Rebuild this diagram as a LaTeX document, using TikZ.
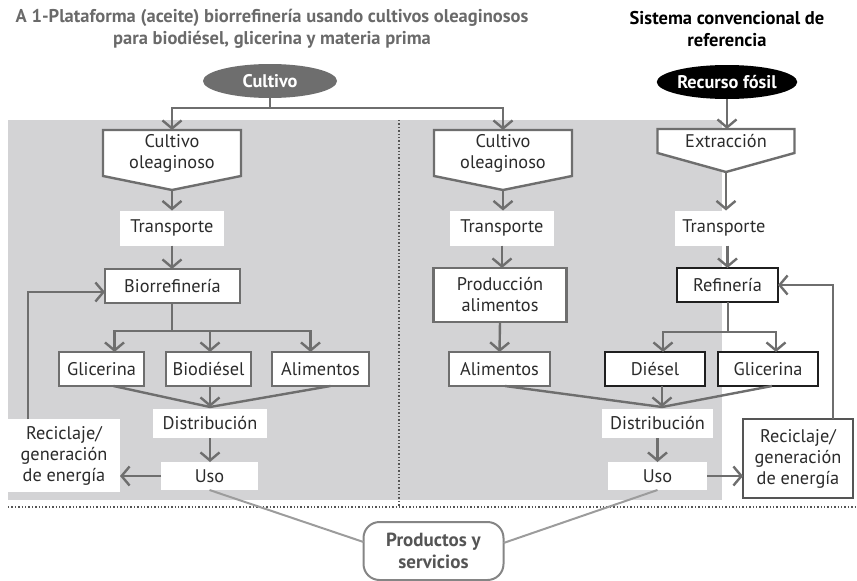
\documentclass[tikz,border=0pt]{standalone}
\usepackage{fontspec}
\setmainfont{PT Sans}
\usetikzlibrary{arrows.meta,calc,shapes.geometric}
\definecolor{bgray}{HTML}{D3D3D5}
\definecolor{lgray}{HTML}{6E6E6E}
\definecolor{tgray}{HTML}{6A6A6A}
\definecolor{ink}{HTML}{2B2B2B}
\definecolor{pline}{HTML}{9C9C9C}
\definecolor{dotc}{HTML}{555555}
\pgfdeclarelayer{bg}
\pgfdeclarelayer{mid}
\pgfsetlayers{bg,mid,main}

\begin{document}
\begin{tikzpicture}[x=1pt,y=-1pt,
  every node/.style={inner sep=0pt,outer sep=0pt,text=ink,align=center,
    font=\fontsize{18.3}{21}\selectfont},
  box/.style={draw=lgray,line width=2.4pt,fill=white,minimum height=34pt},
  blackbox/.style={draw=black!88,line width=2.4pt,fill=white,minimum height=34pt},
  plain/.style={fill=white},
  pent/.style={minimum width=138pt},
  pentline/.style={draw=lgray,line width=2.4pt,fill=white,line join=miter},
  oval/.style={ellipse,minimum width=134pt,minimum height=34pt,text=white,
    font=\fontsize{18.3}{20}\selectfont\bfseries},
  title/.style={font=\fontsize{18.5}{22}\selectfont\bfseries},
  ln/.style={draw=lgray,line width=2.4pt},
  arr/.style={ln,-{Straight Barb[length=8pt,width=19pt]}},
  pl/.style={draw=pline,line width=2pt},
  dotline/.style={draw=dotc,line width=1.6pt,dash pattern=on 1.3pt off 2.1pt}
]
\useasboundingbox (0,0) rectangle (857,581);

% shaded area and separators
\begin{pgfonlayer}{bg}
  \fill[bgray] (8,120) rectangle (722,500);
  \draw[dotline] (399,120) -- (399,507);
  \draw[dotline] (8,507) -- (857,507);
\end{pgfonlayer}

% headings
\node[title,text=tgray] (t1) at (272,29)
  {A 1-Plataforma (aceite) biorrefinería usando cultivos oleaginosos\\
   para biodiésel, glicerina y materia prima};
\node[title,text=black] (t2) at (727,29) {Sistema convencional de\\referencia};

% sources
\node[oval,fill=lgray] (cult) at (270,81) {Cultivo};
\node[oval,fill=black] (fos) at (727,82) {Recurso fósil};

% pentagon nodes
\node[pent,minimum height=46pt] (cul1) at (172,153) {Cultivo\\oleaginoso};
\node[pent,minimum height=46pt] (cul2) at (503,153) {Cultivo\\oleaginoso};
\node[pent,minimum width=137pt,minimum height=24pt] (ext) at (726,141) {Extracción};
\begin{pgfonlayer}{mid}
  \foreach \n/\d in {cul1/14,cul2/14,ext/19}{
    \draw[pentline] (\n.north west) -- (\n.north east) -- (\n.south east)
      -- ([yshift=-\d pt]\n.south) -- (\n.south west) -- cycle;
  }
\end{pgfonlayer}

% transport
\node[plain,minimum width=104pt,minimum height=35pt] (tr1) at (172,228) {Transporte};
\node[plain,minimum width=104pt,minimum height=35pt] (tr2) at (502,228) {Transporte};
\node[plain,minimum width=98pt,minimum height=35pt] (tr3) at (724,228) {Transporte};

% processing
\node[box,minimum width=135pt] (bio) at (172.5,286) {Biorrefinería};
\node[box,minimum width=133pt,minimum height=54pt] (pal) at (500,295) {Producción\\alimentos};
\node[blackbox,minimum width=101pt] (ref) at (727.5,285) {Refinería};

% products
\node[box,minimum width=85pt] (glL) at (101.5,369) {Glicerina};
\node[box,minimum width=85pt] (bdl) at (208.5,369) {Biodiésel};
\node[box,minimum width=97pt] (alL) at (320.5,369) {Alimentos};
\node[box,minimum width=101pt] (alR) at (499.5,369) {Alimentos};
\node[blackbox,minimum width=100pt] (dsl) at (655,369) {Diésel};
\node[blackbox,minimum width=100pt] (glR) at (768,369) {Glicerina};

% distribution and use
\node[plain,minimum width=114pt,minimum height=29pt] (dis1) at (210,423.5) {Distribución};
\node[plain,minimum width=111pt,minimum height=29pt] (dis2) at (657.5,423.5) {Distribución};
\node[plain,minimum width=97pt,minimum height=28pt] (uso1) at (209.5,476) {Uso};
\node[plain,minimum width=99pt,minimum height=28pt] (uso2) at (657.5,476) {Uso};

% end of life
\node[plain,minimum width=112pt,minimum height=73pt] (rec1) at (64,455.5)
  {Reciclaje/\\generación\\de energía};
\node[draw=dotc,line width=1.2pt,fill=white,minimum width=110pt,minimum height=79pt]
  (rec2) at (798,458.5) {Reciclaje/\\generación\\de energía};

% outcome
\node[draw=pline!85!black,line width=2pt,rounded corners=16pt,fill=white,
  minimum width=140pt,minimum height=58pt,text=ink!80,
  font=\fontsize{19}{22}\selectfont\bfseries] (prod) at (433.5,551) {Productos y\\servicios};

% connectors: sources
\coordinate (j1) at (270,108);
\draw[ln] (cult.south) -- (j1);
\draw[arr] (j1) -| (cul1.north);
\draw[arr] (j1) -| (cul2.north);
\draw[arr] (fos.south) -- (fos.south |- ext.north);

% connectors: left chain
\draw[arr] ([yshift=-14pt]cul1.south) -- (tr1.north);
\draw[arr] (tr1.south) -- (bio.north -| tr1.south);
\coordinate (b1) at (172,331);
\draw[ln] (bio.south -| b1) -- (b1);
\draw[arr] (b1) -| ([xshift=13pt]glL.north);
\draw[arr] (b1) -| ([xshift=1.5pt]bdl.north);
\draw[arr] (b1) -| ([xshift=-10pt]alL.north);
\coordinate (d1) at (210,407);
\draw[ln] ([xshift=12pt]glL.south) -- (d1);
\draw[ln] ([xshift=10pt]alL.south) -- (d1);
\draw[arr] (bdl.south -| d1) -- (d1);
\draw[arr] (dis1.south) -- (uso1.north -| dis1.south);
\draw[arr] (uso1.west) -- (rec1.east |- uso1.west);
\draw[arr] ([xshift=-36pt]rec1.north) |- ([yshift=-6pt]bio.west);

% connectors: middle chain
\draw[arr] ([yshift=-14pt]cul2.south) -- (tr2.north -| cul2.south);
\draw[arr] (tr2.south) -- (pal.north -| tr2.south);
\draw[arr] (pal.south) -- (alR.north);

% connectors: fossil chain
\draw[arr] ([yshift=-19pt]ext.south) -- (tr3.north -| ext.south);
\draw[arr] (tr3.south -| ref.north) -- (ref.north);
\coordinate (b2) at (728,332);
\draw[ln] (ref.south -| b2) -- (b2);
\draw[arr] (b2) -| ([xshift=8pt]dsl.north);
\draw[arr] (b2) -| ([xshift=8pt]glR.north);
\coordinate (d2) at (662,407);
\draw[ln] ([xshift=5.5pt]alR.south) -- (d2);
\draw[ln] ([xshift=4pt]glR.south) -- (d2);
\draw[arr] (dsl.south -| d2) -- (d2);
\draw[arr] (dis2.south) -- (uso2.north -| dis2.south);
\draw[arr] (uso2.east) -- (rec2.west |- uso2.east);
\draw[arr] ([xshift=35pt]rec2.north) |- (ref.east);

% connectors: outcome
\draw[pl] (uso1.south) -- ([yshift=9pt]prod.west);
\draw[pl] (uso2.south) -- ([yshift=8pt]prod.east);
\end{tikzpicture}
\end{document}
